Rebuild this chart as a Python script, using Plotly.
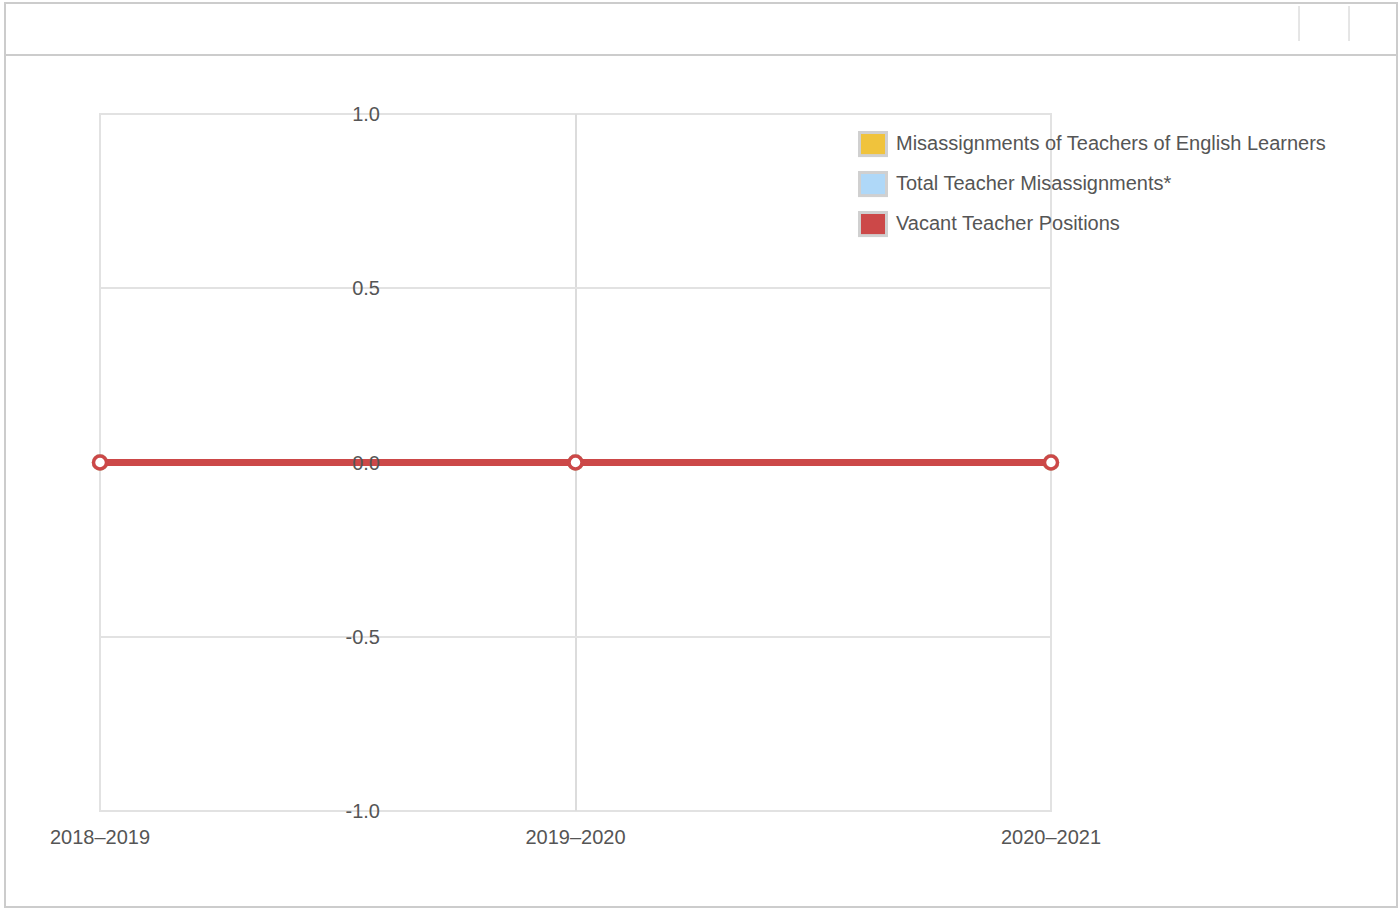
import plotly.graph_objects as go

years = ["2018–2019", "2019–2020", "2020–2021"]
series_names = ["Misassignments of Teachers of English Learners",
                "Total Teacher Misassignments*",
                "Vacant Teacher Positions"]
series_values = [[0, 0, 0], [0, 0, 0], [0, 0, 0]]
series_colors = ["#f0c33c", "#afd8f8", "#cc4848"]
y_ticks = [-1.0, -0.5, 0.0, 0.5, 1.0]
y_tick_labels = ["-1.0", "-0.5", "0.0", "0.5", "1.0"]

W, H = 1400, 909
L, R, T, B = 100, 1051, 114, 811
FONT = "Liberation Sans, Arial, sans-serif"
GRID = "#e2e2e2"


def px(x):
    return (x - L) / (R - L)


def py(y):
    return (B - y) / (B - T)


fig = go.Figure()

# lines (drawn in order, red on top)
for name, vals, col in zip(series_names, series_values, series_colors):
    fig.add_trace(go.Scatter(
        x=years, y=vals, mode="lines+markers", name=name, showlegend=False,
        line=dict(color=col, width=7),
        marker=dict(size=13, color="white", line=dict(color=col, width=3.5)),
        cliponaxis=False, hoverinfo="skip"))

shapes = [
    # outer frame
    dict(type="rect", xref="paper", yref="paper",
         x0=px(5), x1=px(1397), y0=py(907), y1=py(3),
         line=dict(color="#cccccc", width=2), layer="below"),
    # header separator
    dict(type="line", xref="paper", yref="paper",
         x0=px(5), x1=px(1397), y0=py(55), y1=py(55),
         line=dict(color="#cccccc", width=2), layer="below"),
    dict(type="line", xref="paper", yref="paper",
         x0=px(1299), x1=px(1299), y0=py(41), y1=py(6),
         line=dict(color="#cccccc", width=1), layer="below"),
    dict(type="line", xref="paper", yref="paper",
         x0=px(1349), x1=px(1349), y0=py(41), y1=py(6),
         line=dict(color="#cccccc", width=1), layer="below"),
    # plot area border (grid edges)
    dict(type="rect", xref="paper", yref="paper", x0=0, x1=1, y0=0, y1=1,
         line=dict(color=GRID, width=2), layer="below"),
]

# legend drawn as swatches + labels
annotations = []
leg_x, leg_y0, leg_dy, sw = 858, 131, 40, 30
for i, (name, col) in enumerate(zip(series_names, series_colors)):
    top = leg_y0 + i * leg_dy
    shapes.append(dict(type="rect", xref="paper", yref="paper",
                       x0=px(leg_x), x1=px(leg_x + sw),
                       y0=py(top + sw * 0.87), y1=py(top),
                       fillcolor="#d0d0d0", line=dict(width=0)))
    shapes.append(dict(type="rect", xref="paper", yref="paper",
                       x0=px(leg_x + 3), x1=px(leg_x + sw - 3),
                       y0=py(top + sw * 0.87 - 3), y1=py(top + 3),
                       fillcolor=col, line=dict(width=0)))
    annotations.append(dict(xref="paper", yref="paper",
                            x=px(leg_x + sw + 6), y=py(top + sw * 0.87 / 2 - 1),
                            xanchor="left", yanchor="middle", showarrow=False,
                            text=name, font=dict(size=20, color="#555555")))

fig.update_layout(
    width=W, height=H,
    margin=dict(l=L, r=W - R, t=T, b=H - B, pad=0),
    paper_bgcolor="white", plot_bgcolor="white",
    font=dict(family=FONT, size=20, color="#555555"),
    shapes=shapes, annotations=annotations,
    showlegend=False,
    xaxis=dict(type="category", range=[0, 2], showgrid=True,
               gridcolor="#dcdcdc", gridwidth=1.5, zeroline=False,
               showline=False, ticks="", ticklen=0, ticklabelstandoff=12,
               tickfont=dict(size=20, color="#555555")),
    yaxis=dict(range=[-1, 1], tickvals=y_ticks, ticktext=y_tick_labels,
               anchor="free", position=px(380), showgrid=True,
               gridcolor=GRID, gridwidth=2, zeroline=False,
               showline=False, ticks="",
               tickfont=dict(size=20, color="#555555")),
)

fig.write_html("out.html", config={"displayModeBar": False},
               post_script="document.body.style.margin='0';")
